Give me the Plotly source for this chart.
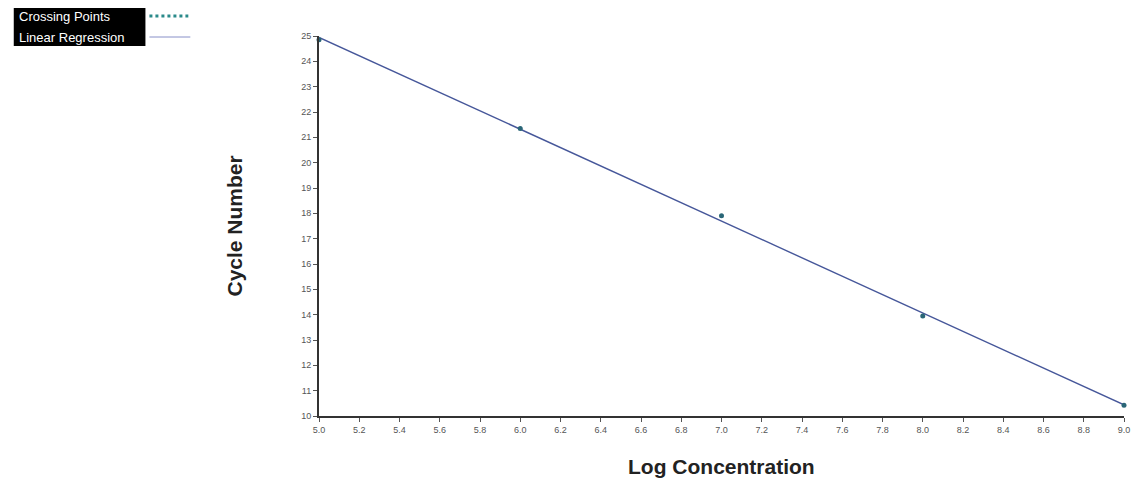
import numpy as np
import plotly.graph_objects as go

# Data
log_conc = [5.0, 6.0, 7.0, 8.0, 9.0]
cycle_number = [24.85, 21.35, 17.9, 13.95, 10.42]

x_tickvals = [round(5.0 + 0.2 * i, 1) for i in range(21)]
y_tickvals = list(range(10, 26))

# Linear regression of the crossing points
slope, intercept = np.polyfit(log_conc, cycle_number, 1)
reg_x = [min(log_conc), max(log_conc)]
reg_y = [slope * v + intercept for v in reg_x]

FONT = "Liberation Sans, Arial, sans-serif"

fig = go.Figure()
fig.add_trace(go.Scatter(
    x=reg_x, y=reg_y, mode="lines", name="Linear Regression",
    line=dict(color="#46579a", width=1.4), showlegend=False,
))
fig.add_trace(go.Scatter(
    x=log_conc, y=cycle_number, mode="markers", name="Crossing Points",
    marker=dict(color="#2a6677", size=5, symbol="circle"),
    showlegend=False, cliponaxis=False,
))

# page body adds an 8px offset; compensate so plot area sits at x 319-1126, y 36-416
fig.update_layout(
    width=1134, height=481,
    margin=dict(l=311, r=16, t=28, b=73),
    paper_bgcolor="white", plot_bgcolor="white",
    font=dict(family=FONT, color="#333"),
    xaxis=dict(
        range=[5.0, 9.0], tickvals=x_tickvals, tickformat=".1f",
        showgrid=False, zeroline=False, showline=True, linecolor="#333", linewidth=2,
        ticks="outside", ticklen=4, tickcolor="#555", tickwidth=1,
        tickfont=dict(size=9, color="#555"),
    ),
    yaxis=dict(
        range=[10, 25], tickvals=y_tickvals,
        showgrid=False, zeroline=False, showline=True, linecolor="#333", linewidth=2,
        ticks="outside", ticklen=4, tickcolor="#555", tickwidth=1,
        tickfont=dict(size=9, color="#555"),
    ),
    annotations=[
        dict(text="<b>Cycle Number</b>", xref="paper", yref="paper", x=0, y=0.5,
             xshift=-99, textangle=-90, showarrow=False,
             font=dict(size=21, color="#222", family=FONT)),
        dict(text="<b>Log Concentration</b>", xref="paper", yref="paper", x=0.5, y=0,
             yshift=-64, showarrow=False,
             font=dict(size=21, color="#222", family=FONT)),
    ],
)

W, H = 807, 380  # plot area size in px


def px(x):
    return (x - 319) / W


def py(y):
    return 1 + (36 - y) / H


# Custom legend (text box on left, symbol to its right)
fig.add_shape(type="rect", xref="paper", yref="paper",
              x0=px(13), x1=px(145), y0=py(6), y1=py(46),
              fillcolor="black", line=dict(width=0), layer="above")
fig.add_annotation(text="Crossing Points", xref="paper", yref="paper",
                   x=px(16), y=py(16), xanchor="left", yanchor="middle",
                   showarrow=False, font=dict(size=13, color="white", family=FONT))
fig.add_annotation(text="Linear Regression", xref="paper", yref="paper",
                   x=px(16), y=py(37), xanchor="left", yanchor="middle",
                   showarrow=False, font=dict(size=13, color="white", family=FONT))
fig.add_shape(type="line", xref="paper", yref="paper",
              x0=px(149), x1=px(188), y0=py(16), y1=py(16),
              line=dict(color="#2a8a8a", width=3, dash="dot"))
fig.add_shape(type="line", xref="paper", yref="paper",
              x0=px(149), x1=px(190), y0=py(37), y1=py(37),
              line=dict(color="#8890c8", width=1))

fig.write_html("out.html")
